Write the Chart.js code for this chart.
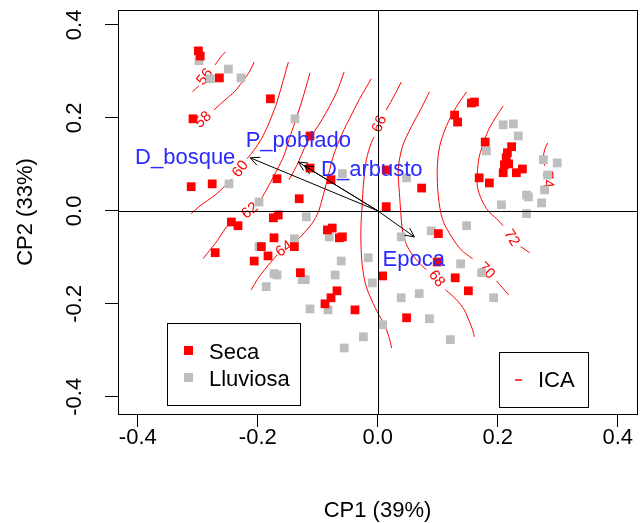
<!DOCTYPE html>
<html>
<head>
<meta charset="utf-8">
<script src="https://cdn.jsdelivr.net/npm/chart.js@4.4.1/dist/chart.umd.min.js"></script>
<style>
  html, body { margin: 0; padding: 0; background: #ffffff; }
  #wrap { width: 642px; height: 523px; }
</style>
</head>
<body>
<div id="wrap"><canvas id="c" width="642" height="523"></canvas></div>
<script>
const FONT = '"Liberation Sans", Arial, Helvetica, sans-serif';

// Site scores on the first two principal components, by season
const seca = [
  [-0.299,0.344],[-0.296,0.333],[-0.264,0.286],[-0.179,0.241],[-0.308,0.198],[-0.168,0.069],
  [-0.311,0.052],[-0.276,0.058],[-0.166,-0.009],[-0.174,-0.015],[-0.131,0.026],[-0.113,0.161],
  [-0.113,0.092],[-0.078,0.067],[0.014,0.088],[0.073,0.049],[0.014,0.009],[0.128,0.206],
  [0.133,0.191],[0.156,0.232],[0.161,0.234],[0.179,0.148],[0.223,0.138],[0.216,0.125],
  [0.214,0.114],[0.211,0.099],[0.218,0.101],[0.209,0.082],[0.231,0.082],[0.241,0.090],
  [0.169,0.071],[0.186,0.060],[-0.244,-0.024],[-0.233,-0.032],[-0.173,-0.058],[-0.194,-0.077],
  [-0.183,-0.097],[-0.206,-0.108],[-0.271,-0.090],[-0.139,-0.077],[-0.129,-0.133],[-0.084,-0.041],
  [-0.076,-0.037],[-0.064,-0.058],[-0.059,-0.056],[-0.068,-0.172],[-0.078,-0.187],[-0.088,-0.200],
  [-0.038,-0.213],[0.008,-0.140],[0.101,-0.049],[0.099,-0.110],[0.129,-0.144],[0.151,-0.172],
  [0.048,-0.230]
];
const lluviosa = [
  [-0.298,0.323],[-0.249,0.305],[-0.228,0.286],[-0.279,0.284],[-0.138,0.198],[-0.248,0.058],
  [-0.198,0.019],[-0.059,0.080],[0.048,0.071],[0.209,0.185],[0.226,0.187],[0.234,0.161],
  [0.181,0.129],[0.276,0.110],[0.299,0.103],[0.283,0.077],[0.278,0.045],[0.248,0.034],
  [0.251,0.030],[0.273,0.017],[0.206,0.013],[0.248,-0.006],[-0.139,-0.060],[-0.198,-0.077],
  [-0.173,-0.135],[-0.168,-0.138],[-0.186,-0.163],[-0.119,-0.013],[-0.081,-0.056],[-0.061,-0.108],
  [-0.126,-0.148],[-0.121,-0.148],[-0.071,-0.138],[-0.113,-0.211],[-0.083,-0.213],[-0.016,-0.101],
  [-0.009,-0.155],[0.008,-0.245],[-0.024,-0.271],[-0.056,-0.295],[0.039,-0.056],[0.089,-0.043],
  [0.148,-0.032],[0.138,-0.114],[0.173,-0.133],[0.039,-0.187],[0.069,-0.178],[0.086,-0.232],
  [0.121,-0.277],[0.193,-0.187]
];

// Environmental vectors (arrow tips) and where their names sit
const vectorNames = ['D_bosque', 'P_poblado', 'D_arbusto', 'Epoca'];
const vectorTips = [[-0.2125,0.114],[-0.1325,0.105],[-0.1225,0.097],[0.061,-0.056]];
const vectorLabelAt = [[-0.321,0.114],[-0.1325,0.151],[-0.010,0.088],[0.060,-0.105]];

// Fitted ICA surface: each isoline is a list of segments (broken where labelled)
const icaA = [
  [[-0.309,0.256],[-0.298,0.269]],
  [[-0.271,0.314],[-0.263,0.329],[-0.254,0.342]]
];
const icaB = [
  [[-0.273,0.217],[-0.256,0.237],[-0.239,0.256],[-0.226,0.277],[-0.214,0.299],[-0.206,0.320]]
];
const icaC = [
  [[-0.311,-0.006],[-0.298,0.009],[-0.284,0.022],[-0.271,0.034],[-0.256,0.052],[-0.243,0.069]],
  [[-0.218,0.112],[-0.206,0.131],[-0.194,0.155],[-0.184,0.181],[-0.176,0.206],[-0.169,0.230],
   [-0.163,0.256],[-0.156,0.288],[-0.149,0.320]]
];
const icaD = [
  [[-0.291,-0.103],[-0.281,-0.086],[-0.269,-0.067],[-0.258,-0.045],[-0.246,-0.024]],
  [[-0.194,0.026],[-0.181,0.056],[-0.168,0.088],[-0.156,0.120],[-0.148,0.153],[-0.138,0.191],
   [-0.129,0.226],[-0.121,0.260],[-0.113,0.297]]
];
const icaE = [
  [[-0.148,0.067],[-0.136,0.095],[-0.118,0.146],[-0.093,0.196],[-0.069,0.254],[-0.056,0.299]]
];
const icaF = [
  [[-0.211,-0.170],[-0.201,-0.148],[-0.189,-0.127],[-0.178,-0.110],[-0.168,-0.095]],
  [[-0.139,-0.069],[-0.126,-0.052],[-0.109,-0.026],[-0.099,-0.002],[-0.093,0.024],[-0.084,0.067],
   [-0.076,0.110],[-0.064,0.153],[-0.048,0.196],[-0.031,0.239],[-0.011,0.284]]
];
const icaG = [
  [[0.023,-0.295],[0.019,-0.273],[0.011,-0.245],[-0.001,-0.217],[-0.014,-0.181],[-0.021,-0.155],
   [-0.026,-0.116],[-0.028,-0.073],[-0.028,-0.030],[-0.026,0.013],[-0.024,0.056],[-0.019,0.110],
   [-0.011,0.146],[-0.006,0.159]],
  [[0.014,0.217],[0.028,0.249],[0.039,0.277]]
];
const icaH = [
  [[0.086,0.256],[0.073,0.222],[0.056,0.181],[0.041,0.138],[0.034,0.088],[0.036,0.039],
   [0.038,0.002],[0.041,-0.041],[0.048,-0.073],[0.058,-0.095],[0.069,-0.112],[0.081,-0.127]],
  [[0.113,-0.170],[0.131,-0.191],[0.144,-0.213],[0.153,-0.239],[0.158,-0.256],[0.161,-0.271]]
];
const icaI = [
  [[0.148,0.256],[0.131,0.224],[0.114,0.181],[0.103,0.138],[0.099,0.088],[0.101,0.030],
   [0.108,-0.019],[0.123,-0.056],[0.139,-0.084],[0.158,-0.103]],
  [[0.198,-0.151],[0.208,-0.166],[0.218,-0.181]]
];
const icaJ = [
  [[0.209,0.226],[0.196,0.200],[0.186,0.178],[0.178,0.153],[0.169,0.116],[0.166,0.084],
   [0.166,0.052],[0.173,0.024],[0.184,0.000],[0.198,-0.017],[0.209,-0.032]],
  [[0.238,-0.077],[0.253,-0.090]]
];
const icaK = [
  [[0.283,0.146],[0.278,0.131],[0.276,0.114],[0.278,0.097]]
];
const icaLines = [icaA, icaB, icaC, icaD, icaE, icaF, icaG, icaH, icaI, icaJ, icaK];

// Isoline labels: level text and anchor point
const icaLabelText = ['56', '58', '60', '62', '64', '66', '68', '70', '72', '74'];
const icaLabelAt = [[-0.288,0.288],[-0.291,0.196],[-0.229,0.090],[-0.213,0.000],[-0.156,-0.082],
                    [0.003,0.187],[0.098,-0.146],[0.181,-0.129],[0.223,-0.058],[0.283,0.067]];
const icaLabelAngle = [-53, -42, -53, -38, -35, -68, 52, 45, 58, 85];

// Axes
const tickValues = [-0.4, -0.2, 0, 0.2, 0.4];
const tickLabels = ['-0.4', '-0.2', '0.0', '0.2', '0.4'];
const xTitle = 'CP1 (39%)';
const yTitle = 'CP2 (33%)';

const toXY = arr => arr.map(p => ({ x: p[0], y: p[1] }));

const datasets = [];
vectorTips.forEach((t, i) => {
  datasets.push({
    type: 'line', label: vectorNames[i], data: toXY([[0, 0], t]),
    borderColor: '#000000', borderWidth: 1, pointRadius: 0, order: 0
  });
});
datasets.push({
  type: 'scatter', label: 'Seca', data: toXY(seca),
  pointStyle: 'rect', pointRadius: 6.2, backgroundColor: '#ff0000', borderWidth: 0, order: 1
});
datasets.push({
  type: 'scatter', label: 'Lluviosa', data: toXY(lluviosa),
  pointStyle: 'rect', pointRadius: 6.2, backgroundColor: '#bebebe', borderWidth: 0, order: 2
});
icaLines.forEach(line => line.forEach(seg => {
  datasets.push({
    type: 'line', label: 'ICA', data: toXY(seg),
    borderColor: '#ff0000', borderWidth: 1, pointRadius: 0, tension: 0.3, order: 3
  });
}));

const decor = {
  id: 'decor',
  beforeDatasetsDraw(chart) {
    const { ctx, scales: { x, y } } = chart;
    ctx.save();
    ctx.fillStyle = '#ff0000';
    ctx.font = '15px ' + FONT;
    ctx.textAlign = 'center';
    ctx.textBaseline = 'middle';
    icaLabelText.forEach((t, i) => {
      const px = x.getPixelForValue(icaLabelAt[i][0]);
      const py = y.getPixelForValue(icaLabelAt[i][1]);
      ctx.save();
      ctx.translate(px, py);
      ctx.rotate(icaLabelAngle[i] * Math.PI / 180);
      ctx.fillText(t, 0, 0);
      ctx.restore();
    });
    ctx.restore();
  },
  afterDatasetsDraw(chart) {
    const { ctx, chartArea: a, scales: { x, y } } = chart;
    ctx.save();
    // reference lines through the origin
    ctx.strokeStyle = '#000000';
    ctx.lineWidth = 1;
    const x0 = Math.round(x.getPixelForValue(0)) + 0.5;
    const y0 = Math.round(y.getPixelForValue(0)) + 0.5;
    ctx.beginPath();
    ctx.moveTo(x0, a.top); ctx.lineTo(x0, a.bottom);
    ctx.moveTo(a.left, y0); ctx.lineTo(a.right, y0);
    ctx.stroke();

    // arrow heads
    vectorTips.forEach(t => {
      const tx = x.getPixelForValue(t[0]), ty = y.getPixelForValue(t[1]);
      const ox = x.getPixelForValue(0), oy = y.getPixelForValue(0);
      const ang = Math.atan2(ty - oy, tx - ox);
      const L = 10, spread = 0.45;
      ctx.beginPath();
      ctx.moveTo(tx - L * Math.cos(ang - spread), ty - L * Math.sin(ang - spread));
      ctx.lineTo(tx, ty);
      ctx.lineTo(tx - L * Math.cos(ang + spread), ty - L * Math.sin(ang + spread));
      ctx.stroke();
    });

    // vector names
    ctx.fillStyle = '#2a2aff';
    ctx.font = '22px ' + FONT;
    ctx.textAlign = 'center';
    ctx.textBaseline = 'middle';
    vectorNames.forEach((n, i) => {
      ctx.fillText(n, x.getPixelForValue(vectorLabelAt[i][0]), y.getPixelForValue(vectorLabelAt[i][1]));
    });

    // plot frame
    ctx.strokeStyle = '#000000';
    ctx.lineWidth = 1;
    ctx.strokeRect(Math.round(a.left) + 0.5, Math.round(a.top) + 0.5,
                   Math.round(a.right - a.left), Math.round(a.bottom - a.top));

    // season legend
    ctx.fillStyle = '#ffffff';
    ctx.fillRect(167.5, 323.5, 133, 82);
    ctx.strokeRect(167.5, 323.5, 133, 82);
    ctx.fillStyle = '#ff0000';
    ctx.fillRect(184, 346, 9, 9);
    ctx.fillStyle = '#bebebe';
    ctx.fillRect(184, 373, 9, 9);
    ctx.fillStyle = '#000000';
    ctx.textAlign = 'left';
    ctx.font = '22px ' + FONT;
    ctx.fillText('Seca', 209, 353);
    ctx.fillText('Lluviosa', 209, 380);

    // surface legend
    ctx.fillStyle = '#ffffff';
    ctx.fillRect(499.5, 352.5, 89, 55);
    ctx.strokeRect(499.5, 352.5, 89, 55);
    ctx.strokeStyle = '#ff0000';
    ctx.lineWidth = 1.5;
    ctx.beginPath();
    ctx.moveTo(515, 380); ctx.lineTo(522, 380);
    ctx.stroke();
    ctx.lineWidth = 1;
    ctx.fillStyle = '#000000';
    ctx.fillText('ICA', 538, 381);

    // tick labels and axis titles
    ctx.fillStyle = '#000000';
    ctx.font = '22px ' + FONT;
    ctx.textAlign = 'center';
    ctx.textBaseline = 'middle';
    tickValues.forEach((v, i) => {
      ctx.fillText(tickLabels[i], x.getPixelForValue(v), 438);
    });
    tickValues.forEach((v, i) => {
      ctx.save();
      ctx.translate(75, y.getPixelForValue(v));
      ctx.rotate(-Math.PI / 2);
      ctx.fillText(tickLabels[i], 0, 0);
      ctx.restore();
    });
    ctx.fillText(xTitle, (a.left + a.right) / 2, 511);
    ctx.save();
    ctx.translate(26, (a.top + a.bottom) / 2);
    ctx.rotate(-Math.PI / 2);
    ctx.fillText(yTitle, 0, 0);
    ctx.restore();
    ctx.restore();
  }
};

const axisBase = {
  type: 'linear',
  afterBuildTicks: s => { s.ticks = tickValues.map(v => ({ value: v })); },
  ticks: { display: false },
  border: { display: false },
  grid: { drawOnChartArea: false, drawTicks: true, tickLength: 13, tickColor: '#000000', tickWidth: 1 }
};

new Chart(document.getElementById('c'), {
  data: { datasets },
  options: {
    responsive: false,
    devicePixelRatio: 1,
    animation: false,
    layout: { padding: { top: 10, right: 5, left: 0, bottom: 0 }, autoPadding: false },
    plugins: { legend: { display: false }, tooltip: { enabled: false } },
    scales: {
      x: Object.assign({}, axisBase, { position: 'bottom', min: -0.433, max: 0.432,
        afterFit: s => { s.height = 109; } }),
      y: Object.assign({}, axisBase, { position: 'left', min: -0.437, max: 0.432,
        afterFit: s => { s.width = 118; } })
    }
  },
  plugins: [decor]
});
</script>
</body>
</html>
